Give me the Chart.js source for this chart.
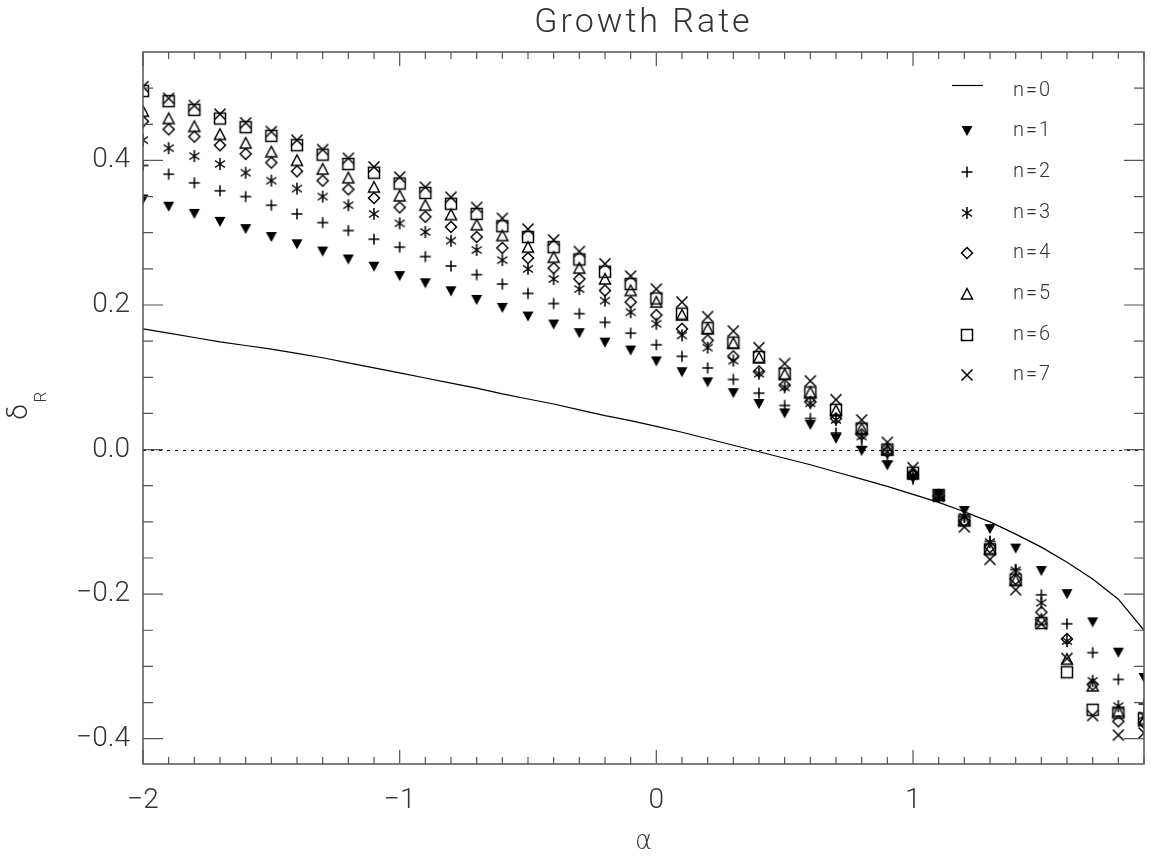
<!DOCTYPE html>
<html>
<head>
<meta charset="utf-8">
<script src="https://cdn.jsdelivr.net/npm/chart.js@4.4.1/dist/chart.umd.min.js"></script>
<style>
  html, body { margin: 0; padding: 0; background: #fff; }
  #output { display: block; }
</style>
</head>
<body>
<canvas id="output" width="1151" height="857"></canvas>
<script>
// x values (alpha)
const alpha = [-2.0, -1.9, -1.8, -1.7, -1.6, -1.5, -1.4, -1.3, -1.2, -1.1,
  -1.0, -0.9, -0.8, -0.7, -0.6, -0.5, -0.4, -0.3, -0.2, -0.1,
  0.0, 0.1, 0.2, 0.3, 0.4, 0.5, 0.6, 0.7, 0.8, 0.9,
  1.0, 1.1, 1.2, 1.3, 1.4, 1.5, 1.6, 1.7, 1.8, 1.9];

// growth rate for each n
const n0 = [0.167, 0.161, 0.155, 0.149, 0.144, 0.139, 0.133, 0.127, 0.120, 0.113,
  0.106, 0.099, 0.092, 0.085, 0.077, 0.070, 0.063, 0.055, 0.047, 0.040,
  0.032, 0.024, 0.015, 0.006, -0.003, -0.012, -0.021, -0.031, -0.041, -0.051,
  -0.062, -0.073, -0.086, -0.100, -0.117, -0.135, -0.156, -0.179, -0.207, -0.250];
const n1 = [0.346, 0.336, 0.326, 0.315, 0.305, 0.294, 0.284, 0.274, 0.263, 0.253,
  0.240, 0.230, 0.219, 0.207, 0.196, 0.184, 0.173, 0.161, 0.148, 0.137,
  0.122, 0.107, 0.093, 0.078, 0.063, 0.050, 0.034, 0.015, -0.002, -0.022,
  -0.040, -0.062, -0.085, -0.110, -0.137, -0.168, -0.200, -0.239, -0.281, -0.316];
const n2 = [0.393, 0.381, 0.369, 0.358, 0.350, 0.338, 0.326, 0.314, 0.303, 0.291,
  0.280, 0.267, 0.254, 0.242, 0.229, 0.216, 0.202, 0.188, 0.176, 0.161,
  0.145, 0.129, 0.113, 0.097, 0.078, 0.061, 0.043, 0.023, 0.004, -0.016,
  -0.041, -0.066, -0.093, -0.127, -0.166, -0.201, -0.241, -0.281, -0.318, -0.352];
const n3 = [0.428, 0.417, 0.406, 0.395, 0.383, 0.372, 0.361, 0.350, 0.338, 0.326,
  0.313, 0.301, 0.289, 0.276, 0.262, 0.250, 0.236, 0.222, 0.206, 0.190,
  0.174, 0.158, 0.141, 0.123, 0.105, 0.086, 0.064, 0.041, 0.018, -0.003,
  -0.036, -0.064, -0.093, -0.128, -0.167, -0.212, -0.265, -0.320, -0.355, -0.368];
const n4 = [0.454, 0.443, 0.433, 0.421, 0.409, 0.397, 0.385, 0.372, 0.360, 0.348,
  0.335, 0.322, 0.308, 0.294, 0.279, 0.265, 0.251, 0.236, 0.220, 0.204,
  0.186, 0.167, 0.151, 0.129, 0.108, 0.089, 0.066, 0.043, 0.021, -0.003,
  -0.035, -0.064, -0.099, -0.135, -0.179, -0.225, -0.262, -0.325, -0.376, -0.378];
const n5 = [0.468, 0.458, 0.447, 0.436, 0.424, 0.412, 0.400, 0.388, 0.376, 0.363,
  0.351, 0.338, 0.325, 0.311, 0.296, 0.280, 0.266, 0.251, 0.236, 0.220,
  0.204, 0.186, 0.167, 0.147, 0.127, 0.104, 0.079, 0.054, 0.029, 0.000,
  -0.033, -0.063, -0.098, -0.137, -0.181, -0.235, -0.290, -0.327, -0.362, -0.375];
const n6 = [0.496, 0.482, 0.470, 0.458, 0.446, 0.434, 0.421, 0.408, 0.395, 0.383,
  0.368, 0.355, 0.340, 0.326, 0.309, 0.294, 0.280, 0.263, 0.246, 0.229,
  0.209, 0.188, 0.168, 0.148, 0.128, 0.105, 0.079, 0.055, 0.029, 0.000,
  -0.032, -0.063, -0.098, -0.138, -0.180, -0.240, -0.308, -0.360, -0.364, -0.372];
const n7 = [0.502, 0.486, 0.476, 0.464, 0.452, 0.440, 0.428, 0.415, 0.403, 0.391,
  0.377, 0.363, 0.349, 0.335, 0.320, 0.305, 0.290, 0.274, 0.257, 0.240,
  0.222, 0.204, 0.184, 0.164, 0.141, 0.119, 0.095, 0.069, 0.041, 0.010,
  -0.025, -0.065, -0.107, -0.152, -0.194, -0.241, -0.289, -0.368, -0.395, -0.392];

const seriesLabels = ["n=0", "n=1", "n=2", "n=3", "n=4", "n=5", "n=6", "n=7"];
const xTicks = [-2, -1, 0, 1];
const yTicks = [-0.4, -0.2, 0.0, 0.2, 0.4];

const FONT = "Roboto";
const INK = "#333";

// IDL style plot symbols as small canvases
function makeMarker(kind) {
  const c = document.createElement("canvas");
  c.width = 16;
  c.height = 16;
  const g = c.getContext("2d");
  g.strokeStyle = "#000";
  g.fillStyle = "#000";
  g.lineWidth = 1.5;
  g.beginPath();
  switch (kind) {
    case "tridown":
      g.moveTo(2.5, 3); g.lineTo(13.5, 3); g.lineTo(8, 13); g.closePath();
      g.fill();
      break;
    case "plus":
      g.moveTo(2.5, 8); g.lineTo(13.5, 8);
      g.moveTo(8, 2.5); g.lineTo(8, 13.5);
      g.stroke();
      break;
    case "aster":
      g.moveTo(8, 2); g.lineTo(8, 14);
      g.moveTo(3, 4.5); g.lineTo(13, 11.5);
      g.moveTo(3, 11.5); g.lineTo(13, 4.5);
      g.stroke();
      break;
    case "diamond":
      g.moveTo(8, 2.5); g.lineTo(13.5, 8); g.lineTo(8, 13.5); g.lineTo(2.5, 8); g.closePath();
      g.stroke();
      break;
    case "triup":
      g.moveTo(8, 2.5); g.lineTo(13.5, 13); g.lineTo(2.5, 13); g.closePath();
      g.stroke();
      break;
    case "square":
      g.rect(2.5, 2.5, 11, 11);
      g.stroke();
      break;
    case "x":
      g.moveTo(2.5, 2.5); g.lineTo(13.5, 13.5);
      g.moveTo(2.5, 13.5); g.lineTo(13.5, 2.5);
      g.stroke();
      break;
  }
  return c;
}

const markers = ["tridown", "plus", "aster", "diamond", "triup", "square", "x"].map(makeMarker);
const symbolSeries = [n1, n2, n3, n4, n5, n6, n7];
const toXY = (ys) => alpha.map((a, i) => ({ x: a, y: ys[i] }));

const minus = (s) => s.replace("-", "\u2212");

// frame, inward ticks, zero line, title, axis titles, legend
const decorations = {
  id: "decorations",
  beforeDatasetsDraw(chart) {
    const { ctx, chartArea: a, scales } = chart;
    const y0 = Math.round(scales.y.getPixelForValue(0)) + 0.5;
    ctx.save();
    ctx.strokeStyle = "#000";
    ctx.lineWidth = 1;
    ctx.setLineDash([3, 5]);
    ctx.beginPath();
    ctx.moveTo(a.left, y0);
    ctx.lineTo(a.right, y0);
    ctx.stroke();
    ctx.restore();
  },
  afterDraw(chart) {
    const { ctx, chartArea: a, scales } = chart;
    ctx.save();
    ctx.strokeStyle = "#555";
    ctx.lineWidth = 1.5;
    ctx.strokeRect(a.left, a.top, a.right - a.left, a.bottom - a.top);

    ctx.lineWidth = 1.2;
    ctx.beginPath();
    for (let i = -20; i <= 19; i++) {
      const px = scales.x.getPixelForValue(i / 10);
      const len = i % 10 === 0 ? 14 : 7;
      ctx.moveTo(px, a.bottom); ctx.lineTo(px, a.bottom - len);
      ctx.moveTo(px, a.top); ctx.lineTo(px, a.top + len);
    }
    for (let i = -8; i <= 10; i++) {
      const py = scales.y.getPixelForValue(i * 0.05);
      const len = i % 4 === 0 ? 20 : 10;
      ctx.moveTo(a.left, py); ctx.lineTo(a.left + len, py);
      ctx.moveTo(a.right, py); ctx.lineTo(a.right - len, py);
    }
    ctx.stroke();

    // title
    ctx.fillStyle = INK;
    ctx.letterSpacing = "3px";
    ctx.font = "300 34px " + FONT;
    ctx.textAlign = "center";
    ctx.textBaseline = "alphabetic";
    ctx.fillText("Growth Rate", (a.left + a.right) / 2, 32);

    // x axis title
    ctx.letterSpacing = "0px";
    ctx.font = "200 26px 'DejaVu Sans'";
    ctx.textBaseline = "middle";
    ctx.fillText("\u03b1", (a.left + a.right) / 2, 842);

    // y axis title: delta with subscript R, rotated
    ctx.save();
    ctx.translate(31, (a.top + a.bottom) / 2);
    ctx.rotate(-Math.PI / 2);
    ctx.font = "300 28px " + FONT;
    ctx.fillText("\u03b4", -4, -11);
    ctx.font = "300 17px " + FONT;
    ctx.fillText("R", 11, 11);
    ctx.restore();

    // legend
    ctx.strokeStyle = "#000";
    ctx.lineWidth = 1.2;
    ctx.beginPath();
    ctx.moveTo(952, 85.5);
    ctx.lineTo(983, 85.5);
    ctx.stroke();
    ctx.font = "300 20px " + FONT;
    ctx.letterSpacing = "2px";
    ctx.textAlign = "left";
    ctx.fillText(seriesLabels[0], 1013, 91);
    for (let k = 1; k < seriesLabels.length; k++) {
      const ry = 90.5 + 40.7 * k;
      ctx.drawImage(markers[k - 1], 967 - 8, Math.round(ry) - 8);
      ctx.fillText(seriesLabels[k], 1013, ry);
    }
    ctx.restore();
  }
};

new Chart(document.getElementById("output").getContext("2d"), {
  type: "scatter",
  data: {
    datasets: [
      {
        label: seriesLabels[0],
        data: toXY(n0),
        showLine: true,
        borderColor: "#000",
        borderWidth: 1.2,
        pointRadius: 0,
        clip: 0
      },
      ...symbolSeries.map((s, k) => ({
        label: seriesLabels[k + 1],
        data: toXY(s),
        showLine: false,
        pointStyle: markers[k],
        pointRadius: 6,
        pointHoverRadius: 6,
        clip: 0
      }))
    ]
  },
  options: {
    responsive: false,
    devicePixelRatio: 1,
    animation: false,
    events: [],
    layout: { padding: { left: 0, right: 4, top: 52, bottom: 0 } },
    plugins: {
      legend: { display: false },
      title: { display: false },
      tooltip: { enabled: false }
    },
    scales: {
      x: {
        type: "linear",
        min: -2,
        max: 1.9,
        grid: { display: false, drawTicks: false },
        border: { display: false },
        afterBuildTicks: (s) => { s.ticks = xTicks.map((v) => ({ value: v })); },
        afterFit: (s) => { s.height = 93; },
        ticks: {
          autoSkip: false,
          maxRotation: 0,
          padding: 20,
          color: INK,
          font: { family: FONT, size: 28, weight: 300 },
          callback: (v) => minus(String(v))
        }
      },
      y: {
        type: "linear",
        min: -0.435,
        max: 0.55,
        grid: { display: false, drawTicks: false },
        border: { display: false },
        afterBuildTicks: (s) => { s.ticks = yTicks.map((v) => ({ value: v })); },
        afterFit: (s) => { s.width = 143; },
        ticks: {
          autoSkip: false,
          padding: 13,
          color: INK,
          font: { family: FONT, size: 28, weight: 300 },
          callback: (v) => minus(Number(v).toFixed(1))
        }
      }
    }
  },
  plugins: [decorations]
});
</script>
</body>
</html>
